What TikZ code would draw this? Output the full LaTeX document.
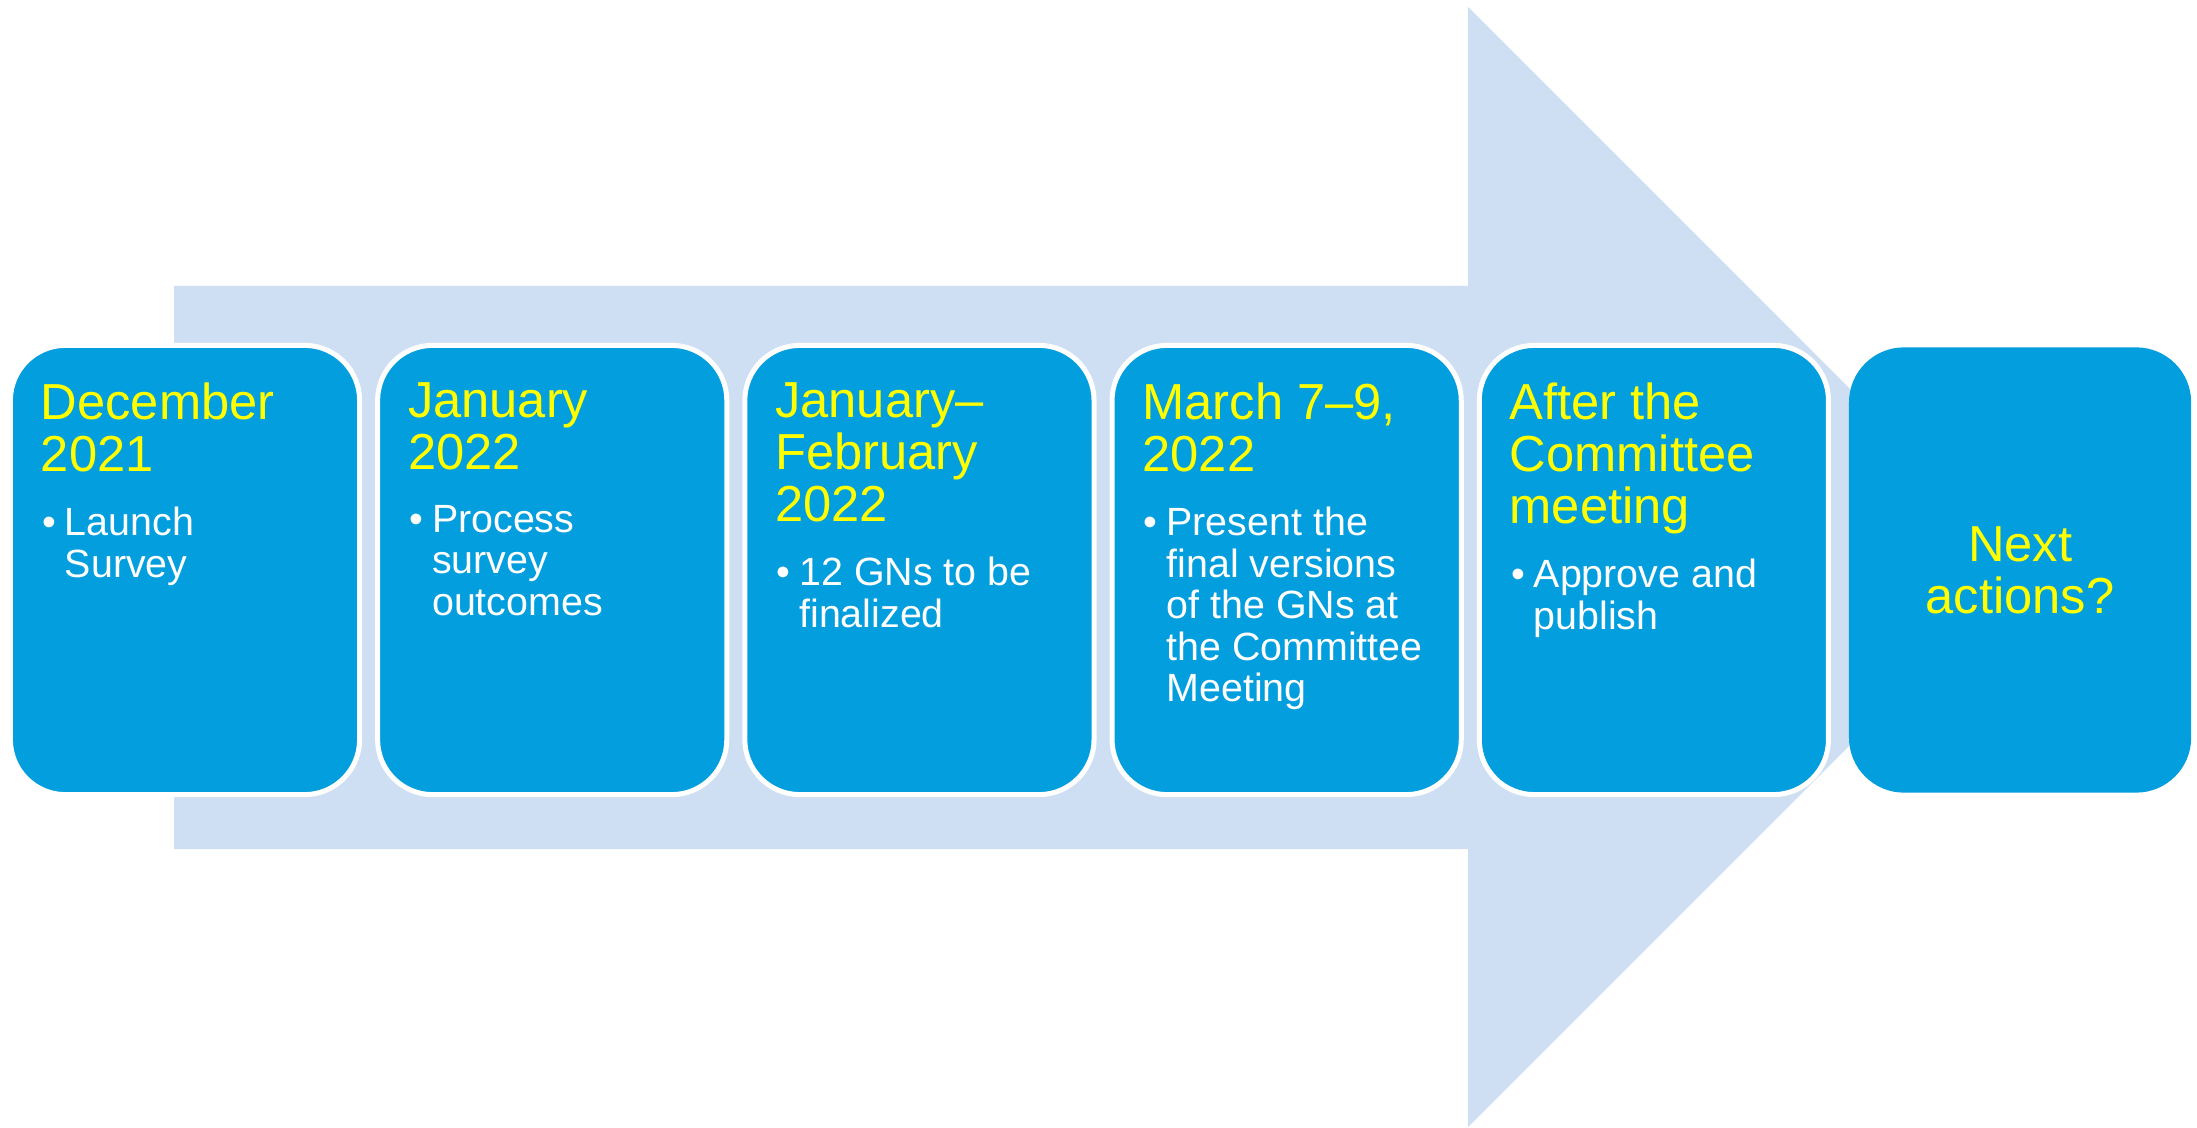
\documentclass[tikz,border=0pt]{standalone}
\usepackage{fontspec}
\setmainfont{Liberation Sans}
\usetikzlibrary{positioning}

\definecolor{boxblue}{RGB}{3,158,221}
\definecolor{arrowblue}{RGB}{206,223,243}
\definecolor{dateyellow}{RGB}{255,255,0}
\newcommand{\bul}{\llap{\textbullet\hspace{0.09cm}}}

\begin{document}
\begin{tikzpicture}[x=0.01cm, y=-0.01cm,
    % Define node styles
    box/.style={rectangle, rounded corners=0.55cm, fill=boxblue, draw=white,
                line width=0.05cm, minimum width=3.49cm, minimum height=4.49cm,
                inner sep=0pt, outer sep=0pt},
    heading/.style={text=dateyellow, align=left, inner sep=0pt, outer sep=0pt,
                font=\fontsize{14.4pt}{14.8pt}\selectfont},
    date/.style={heading, execute at end node=\strut},
    item/.style={text=white, align=left, inner sep=0pt, outer sep=0pt,
                font=\fontsize{11.2pt}{11.8pt}\selectfont}
]
    \useasboundingbox[fill=white] (0,0) rectangle (2197,1128);

    % Big arrow behind the boxes
    \fill[arrowblue] (174,286) -- (1468,286) -- (1468,7) -- (2028,567)
        -- (1468,1127) -- (1468,849) -- (174,849) -- cycle;

    % Create nodes
    \node[box] (dec) at (185,570) {};
    \node[box, right=0.18cm of dec] (jan) {};
    \node[box, right=0.18cm of jan] (janfeb) {};
    \node[box, right=0.18cm of janfeb] (march) {};
    \node[box, right=0.18cm of march] (after) {};
    \node[box, draw=none, minimum width=3.42cm, minimum height=4.45cm,
          right=0.205cm of after] (next) {};

    % Dates and items
    \node[date, below right=0.375cm and 0.305cm of dec.north west] (decdate) {December\\2021};
    \node[item, below right=0.2cm and 0.24cm of decdate.south west] (decitem) {\bul Launch\\Survey};

    \node[date, below right=0.375cm and 0.305cm of jan.north west] (jandate) {January\\2022};
    \node[item, below right=0.2cm and 0.24cm of jandate.south west] (janitem) {\bul Process\\survey\\outcomes};

    \node[date, below right=0.375cm and 0.305cm of janfeb.north west] (janfebdate) {January--\\February\\2022};
    \node[item, below right=0.2cm and 0.24cm of janfebdate.south west] (janfebitem) {\bul 12 GNs to be\\finalized};

    \node[date, below right=0.375cm and 0.305cm of march.north west] (marchdate) {March 7--9,\\2022};
    \node[item, below right=0.2cm and 0.24cm of marchdate.south west] (marchitem)
        {\bul Present the\\final versions\\of the GNs at\\the Committee\\Meeting};

    \node[date, below right=0.375cm and 0.305cm of after.north west] (afterdate) {After the\\Committee\\meeting};
    \node[item, below right=0.2cm and 0.24cm of afterdate.south west] (afteritem) {\bul Approve and\\publish};

    \node[heading, align=center] (nexttext) at (next) {Next\\actions?};
\end{tikzpicture}
\end{document}
